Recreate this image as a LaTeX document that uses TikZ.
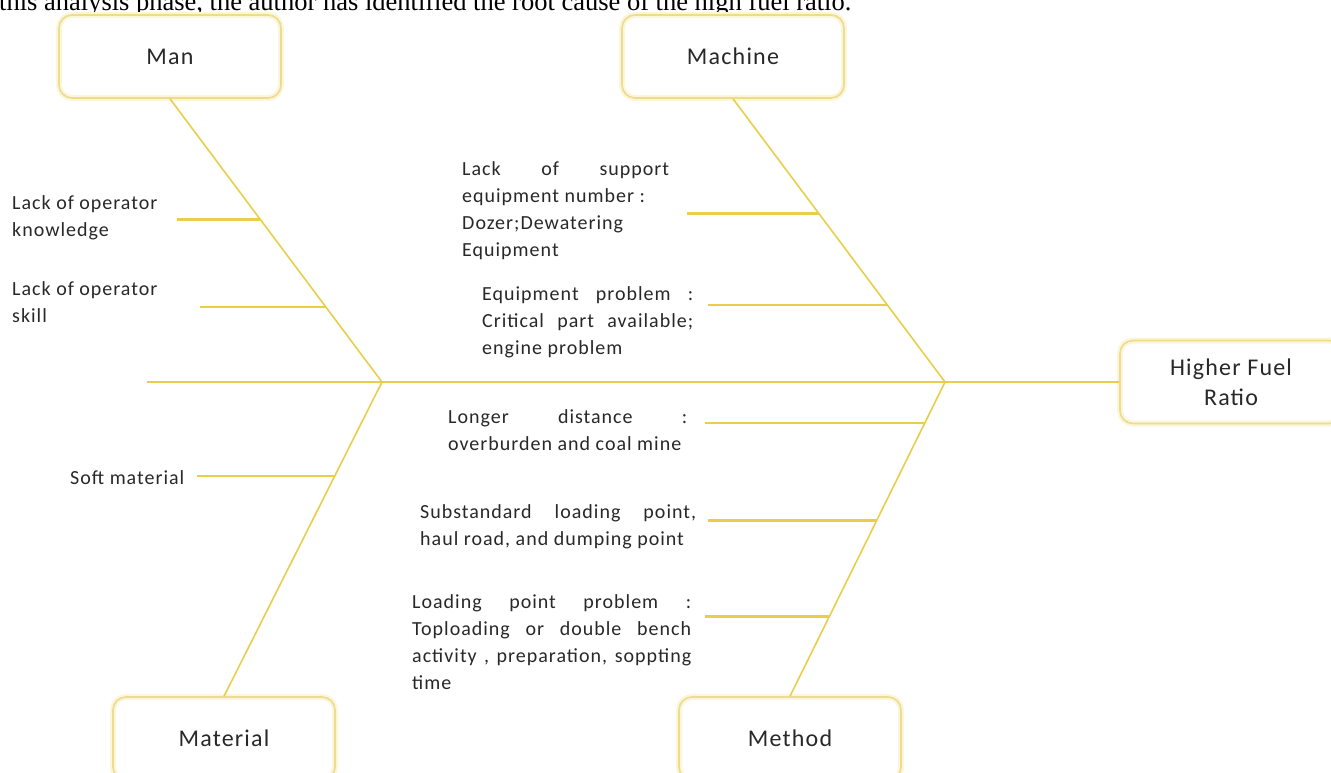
\documentclass[tikz,border=0pt]{standalone}
\usepackage{fontspec}
\setmainfont{Carlito}[LetterSpace=5]
\newfontfamily\paperfont{Liberation Serif}
\usetikzlibrary{calc}
\definecolor{bonecol}{RGB}{233,206,74}
\definecolor{boxcol}{RGB}{236,220,140}
\definecolor{glowcol}{RGB}{251,246,218}
\definecolor{inkcol}{RGB}{40,40,40}

\begin{document}
\begin{tikzpicture}[x=1pt,y=-1pt,
  catbox/.style={draw=boxcol, line width=1.6pt, rounded corners=13pt,
    minimum width=222pt, minimum height=83pt, align=center, text=inkcol,
    font=\fontsize{24}{30}\selectfont, preaction={draw=glowcol, line width=6pt}},
  cause/.style={inner sep=0pt, align=left, anchor=base west, text=inkcol,
    font=\fontsize{20}{27}\selectfont},
  bone/.style={draw=bonecol, line width=1.6pt},
  rib/.style={draw=bonecol, line width=2.2pt}]
  \useasboundingbox (0,0) rectangle (1331,772);

  % line of the page above the figure
  \node[inner sep=0pt, anchor=base west, font=\paperfont\fontsize{26.5}{30}\selectfont] (caption) at (-1,10)
    {this analysis phase, the author has identified the root cause of the high fuel ratio.};

  % heads and effect
  \node[catbox] (man) at (170,56.5) {Man};
  \node[catbox] (machine) at (733,56.5) {Machine};
  \node[catbox] (material) at (224,738.5) {Material};
  \node[catbox] (method) at (790,738.5) {Method};
  \node[catbox] (effect) at (1231,382) {Higher Fuel\\Ratio};

  \coordinate (tail) at (147,382);
  \coordinate (j1) at (382,382);
  \coordinate (j2) at (945,382);

  % spine and bones
  \draw (tail) edge[bone] (effect.west);
  \draw (man.south) edge[bone] (j1);
  \draw (j1) edge[bone] (material.north);
  \draw (machine.south) edge[bone] (j2);
  \draw (j2) edge[bone] (method.north);

  % ribs
  \foreach \nm/\sx/\from/\to/\t in {a/177/man.south/j1/0.426, b/200/man.south/j1/0.736,
      c/687/machine.south/j2/0.405, d/708/machine.south/j2/0.729,
      e/197/j1/material.north/0.298, f/705/j2/method.north/0.130,
      g/708/j2/method.north/0.441, h/705/j2/method.north/0.746}{
    \coordinate (p\nm) at ($(\from)!\t!(\to)$);
    \coordinate (r\nm) at (\sx,0);
    \draw (r\nm |- p\nm) edge[rib] (p\nm);
  }

  % causes (placed at the baseline of their last line)
  \node[cause] (knowledge) at (12,236) {Lack of operator\\knowledge};
  \node[cause] (skill) at (12,322) {Lack of operator\\skill};
  \node[cause] (soft) at (70,484) {Soft material};
  \node[cause] (support) at (462,256) {\makebox[207pt][s]{Lack of support}\\equipment number :\\Dozer;Dewatering\\Equipment};
  \node[cause] (equip) at (482,354) {\makebox[211pt][s]{Equipment problem :}\\\makebox[211pt][s]{Critical part available;}\\engine problem};
  \node[cause] (distance) at (448,450) {\makebox[239pt][s]{Longer distance :}\\overburden and coal mine};
  \node[cause] (substd) at (420,545) {\makebox[276pt][s]{Substandard loading point,}\\haul road, and dumping point};
  \node[cause] (loading) at (412,689) {\makebox[279pt][s]{Loading point problem :}\\\makebox[279pt][s]{Toploading or double bench}\\\makebox[279pt][s]{activity , preparation, soppting}\\time};
\end{tikzpicture}
\end{document}
